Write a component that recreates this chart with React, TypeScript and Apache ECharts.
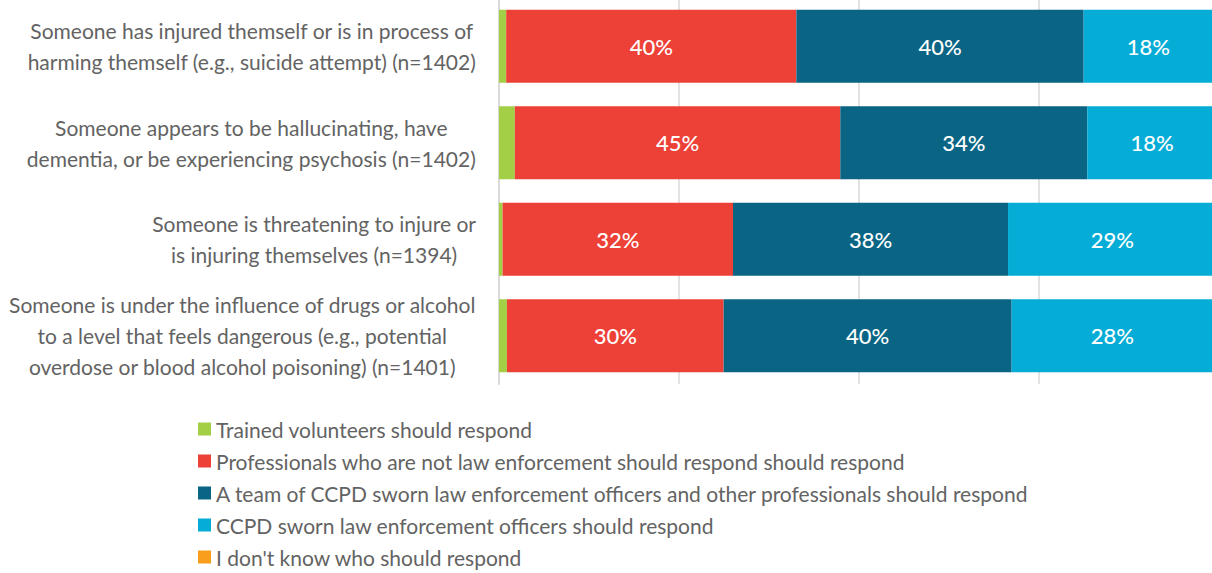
import React, { useEffect, useRef } from "react";
import * as echarts from "echarts";

const categories = [
  "Someone has injured themself or is in process of\nharming themself (e.g., suicide attempt) (n=1402)",
  "Someone appears to be hallucinating, have\ndementia, or be experiencing psychosis (n=1402)",
  "Someone is threatening to injure or\nis injuring themselves (n=1394)",
  "Someone is under the influence of drugs or alcohol\nto a level that feels dangerous (e.g., potential\noverdose or blood alcohol poisoning) (n=1401)",
];

const seriesNames = [
  "Trained volunteers should respond",
  "Professionals who are not law enforcement should respond should respond",
  "A team of CCPD sworn law enforcement officers and other professionals should respond",
  "CCPD sworn law enforcement officers should respond",
  "I don't know who should respond",
];

const volunteers = [1.0, 2.2, 0.5, 1.1];
const professionals = [40.3, 45.2, 32.0, 30.1];
const team = [39.9, 34.3, 38.2, 40.0];
const officers = [18.0, 18.0, 29.0, 28.0];
const dontKnow = [0.8, 0.3, 0.3, 0.8];

const seriesValues = [volunteers, professionals, team, officers, dontKnow];
const seriesColors = ["#a2cf45", "#ed4137", "#0a6585", "#05acd6", "#f99d1c"];
const showLabel = [false, true, true, true, false];

const FONT = "Lato, 'Open Sans', sans-serif";
const GREY = "#636363";

export default function App() {
  const ref = useRef<HTMLDivElement>(null);
  useEffect(() => {
    if (!ref.current) return;
    const chart = echarts.init(ref.current, null, { renderer: "svg" });
    chart.setOption({
      animation: false,
      textStyle: { fontFamily: FONT },
      grid: { left: 499, right: 0, top: 0, height: 386, containLabel: false, outerBoundsMode: "none" },
      legend: {
        orient: "vertical",
        left: 198,
        top: 420,
        padding: 0,
        itemWidth: 13,
        itemHeight: 13,
        itemGap: 10,
        icon: "rect",
        textStyle: { fontSize: 21, color: GREY, fontFamily: FONT, lineHeight: 22 },
        data: seriesNames,
      },
      xAxis: {
        type: "value",
        min: 0,
        max: 100,
        interval: 25,
        axisLabel: { show: false },
        axisLine: { show: false },
        axisTick: { show: false },
        splitLine: { show: true, lineStyle: { color: "#d9d9d9", width: 1.5 } },
      },
      yAxis: {
        type: "category",
        inverse: true,
        data: categories,
        axisLine: { show: true, lineStyle: { color: "#d9d9d9", width: 2 } },
        axisTick: { show: false },
        axisLabel: {
          margin: 23,
          align: "right",
          fontSize: 21,
          color: GREY,
          lineHeight: 31,
          formatter: (v: string) =>
            v
              .split("\n")
              .map((l) => `{c|${l}}`)
              .join("\n"),
          rich: {
            c: { align: "center", fontSize: 21, color: GREY, lineHeight: 31, fontFamily: FONT },
          },
        },
      },
      series: seriesNames.map((name, i) => ({
        name,
        type: "bar",
        stack: "total",
        barWidth: 73,
        data: seriesValues[i],
        itemStyle: { color: seriesColors[i] },
        label: {
          show: showLabel[i],
          position: "inside",
          color: "#ffffff",
          fontSize: 22,
          fontWeight: 500,
          fontFamily: FONT,
          formatter: (p: any) => Math.round(p.value) + "%",
        },
      })),
    });
    return () => chart.dispose();
  }, []);
  return (
    <div
      style={{
        position: "absolute",
        left: 0,
        top: 0,
        width: 1212,
        height: 573,
        overflow: "hidden",
      }}
    >
      <div
        ref={ref}
        style={{ position: "absolute", left: 0, top: -2, width: 1219, height: 575 }}
      />
    </div>
  );
}
